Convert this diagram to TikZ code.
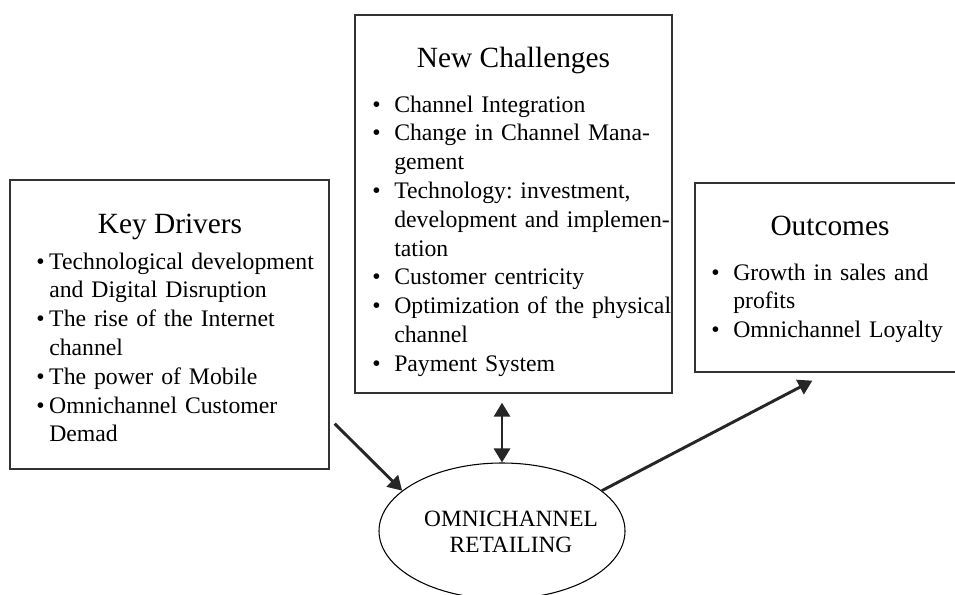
\documentclass[tikz,border=0pt]{standalone}
\usepackage{fontspec}
\setmainfont{Liberation Serif}
\usetikzlibrary{arrows.meta, calc, positioning, shapes.geometric}

% opsommingsteken met hangende inspringing
\newlength{\bulletwd}
\newcommand{\bitem}{\hangindent=\bulletwd\hangafter=1\noindent\makebox[\bulletwd][l]{\textbullet}}

\tikzset{
  % kaders rond de blokken
  panel/.style={draw=black!80, line width=1pt, inner sep=0pt},
  % titel van een blok
  heading/.style={anchor=base, inner sep=0pt, font=\fontsize{22pt}{26pt}\selectfont},
  % lijst met punten, #1 = breedte van het opsommingsteken
  points/.style={%
    anchor=base west,
    inner sep=0pt,
    text width=235pt,
    font=\fontsize{17.8pt}{21.6pt}\selectfont,
    execute at begin node={\raggedright\frenchspacing\setlength{\bulletwd}{#1}}
  },
  % het midden
  hub/.style={draw, ellipse, line width=0.8pt, inner sep=0pt},
  % pijlen
  link/.style={draw=black!85, line width=2.2pt, -{Triangle[length=10.5pt,width=12pt]}}
}

\begin{document}
\begin{tikzpicture}[x=0.75pt, y=-0.75pt]
  \useasboundingbox (0,0) rectangle (955,594);

  % --- KEY DRIVERS ---
  \node[panel, minimum width=239.25pt, minimum height=216.75pt] (drivers) at (169.5,324.5) {};
  \node[heading] (driverstitle) at (170,233) {Key Drivers};
  \node[points=9.75pt] (driverslist) at (36,269) {%
    \bitem Technological development\newline and Digital Disruption\par
    \bitem The rise of the Internet\newline channel\par
    \bitem The power of Mobile\par
    \bitem Omnichannel Customer\newline Demad\par};

  % --- NEW CHALLENGES ---
  \node[panel, minimum width=237.75pt, minimum height=283.5pt] (challenges) at (513.5,204) {};
  \node[heading] (challengestitle) at (513.5,67) {New Challenges};
  \node[points=16.5pt] (challengeslist) at (372,112) {%
    \bitem Channel Integration\par
    \bitem Change in Channel Mana-\newline gement\par
    \bitem Technology: investment,\newline development and implemen-\newline tation\par
    \bitem Customer centricity\par
    \bitem Optimization of the physical\newline channel\par
    \bitem Payment System\par};

  % --- OUTCOMES ---
  \node[panel, minimum width=202.5pt, minimum height=141.75pt] (outcomes) at (830,277.5) {};
  \node[heading] (outcomestitle) at (830,235) {Outcomes};
  \node[points=16.5pt] (outcomeslist) at (711,280) {%
    \bitem Growth in sales and\newline profits\par
    \bitem Omnichannel Loyalty\par};

  % --- OMNICHANNEL RETAILING ---
  \node[hub, minimum width=184.5pt, minimum height=102pt] (omni) at (502,531) {};
  \node[align=center, inner sep=0pt, font=\fontsize{17.5pt}{19.5pt}\selectfont] (omnitext) at (511,532) {OMNICHANNEL\\RETAILING};

  % losse eindpunten van de pijlen
  \coordinate (kdout) at ($(drivers.south east)+(5,-46)$);
  \coordinate (ncin) at ($(omni.north |- challenges.south)+(0,9)$);
  \coordinate (ocin) at ($(outcomes.south west)+(118,8)$);

  \draw[link] (kdout) -- (omni.158);
  \draw[link, {Triangle[length=10.5pt,width=12pt]}-{Triangle[length=10.5pt,width=12pt]}] (ncin) -- (omni.north);
  \draw[link] (omni.22) -- (ocin);
\end{tikzpicture}
\end{document}
